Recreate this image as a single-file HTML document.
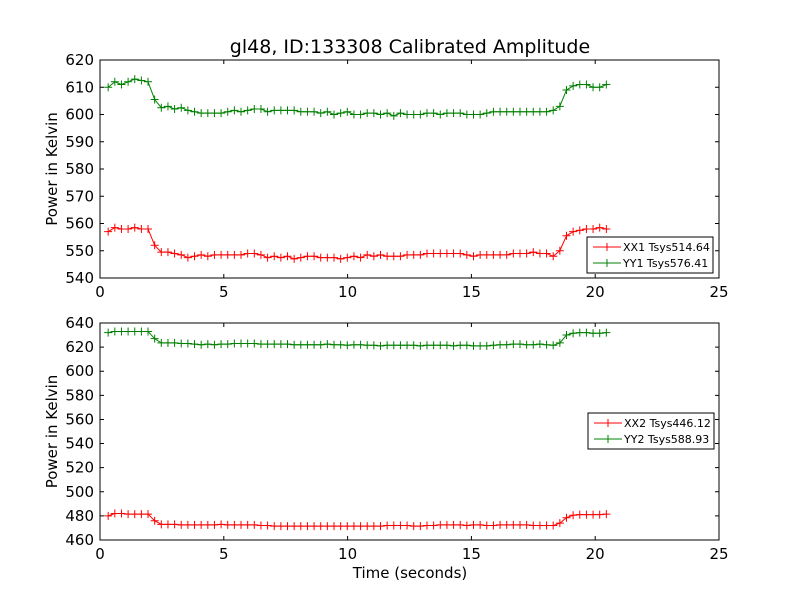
<!DOCTYPE html>
<html><head><meta charset="utf-8"><style>body{margin:0;background:#fff}svg{display:block;font-family:"DejaVu Sans","Liberation Sans",sans-serif}</style></head>
<body>
<svg id="chart" width="800" height="600"></svg>
<script>
const t0 = 0.33, t1 = 20.45;
const xx1 = [557,558.5,558,558,558.5,558,558,552,549.5,549.5,549,548.5,547.5,548,548.5,548,548.5,548.5,548.5,548.5,548.5,549,549,548.5,547.5,548,547.5,548,547,547.5,548,548,547.5,547.5,547.5,547,547.5,548,547.5,548.5,548,548.5,548,548,548,548.5,548.5,548.5,549,549,549,549,549,549,548.5,548,548.5,548.5,548.5,548.5,548.5,549,549,549,549.5,549,549,548,550,555.5,557,557.5,558,558,558.5,558];
const yy1 = [610,612,611,612,613,612.5,612,605.5,602.5,603,602,602.5,601.5,601,600.5,600.5,600.5,600.5,601,601.5,601,601.5,602,602,601,601.5,601.5,601.5,601.5,601,601,601,600.5,601,600,600.5,601,600,600,600.5,600.5,600,600.5,599.5,600.5,600,600,600,600.5,600.5,600,600.5,600.5,600.5,600,600,600,600.5,601,601,601,601,601,601,601,601,601,601.5,603,609,610.5,611,611,610,610,611];
const xx2 = [480,482,482,481.5,481.5,481.5,481.5,476,473,473,473,472.5,472.5,472.5,472.5,472.5,472.5,473,472.5,472.5,472.5,472.5,472.5,472,472,471.5,471.5,471.5,471.5,471.5,471.5,471.5,471.5,471.5,471.5,471.5,471.5,471.5,471.5,471.5,471.5,471.5,472,472,472,472,471.5,471.5,472,472,472.5,472.5,472.5,472.5,472,472.5,472.5,472,472,472.5,472.5,472.5,472.5,472.5,472,472,472,472,474,478.5,480.5,481,481,481,481,481.5];
const yy2 = [632,633,633,633,633,633,633,627,623.5,623.5,623.5,623,623,622.5,622,622.5,622,622.5,622.5,623,623,623,623,622.5,622.5,622.5,622.5,622.5,622,622,622,622,622,622.5,622,622,621.5,622,622,621.5,621.5,621,621.5,621.5,621.5,621.5,621.5,621,621.5,621.5,621.5,621.5,621,621.5,621.5,621,621,621,621.5,622,622,622.5,622.5,622,622,622.5,622,621.5,623.5,630,631.5,632,632,631.5,631.5,632];
const xTicks = [0,5,10,15,20,25];
const yTicksTop = [540,550,560,570,580,590,600,610,620];
const yTicksBot = [460,480,500,520,540,560,580,600,620,640];
const legendTop = ["XX1 Tsys514.64","YY1 Tsys576.41"];
const legendBot = ["XX2 Tsys446.12","YY2 Tsys588.93"];

const NS="http://www.w3.org/2000/svg";
const svg=document.getElementById('chart');
function mk(tag,attrs,parent){const e=document.createElementNS(NS,tag);for(const k in attrs)e.setAttribute(k,attrs[k]);(parent||svg).appendChild(e);return e;}

function panel(cfg){
  const {L,R,T,B,ymin,ymax,yTicks,series,legend,lx,ly,name}=cfg;
  const g=mk('g',{});
  
  
  const xs=v=>L+(v-0)/(25-0)*(R-L);
  const ys=v=>B-(v-ymin)/(ymax-ymin)*(B-T);
  series.forEach(s=>{
    const n=s.vals.length;
    const pts=s.vals.map((v,i)=>[xs(t0+(t1-t0)*i/(n-1)),ys(v)]);
    const pl=mk('polyline',{points:pts.map(p=>p.join(',')).join(' '),fill:'none',stroke:s.color,'stroke-width':1},g);
    
    
    let d='';pts.forEach(p=>{d+=`M${p[0]-4},${p[1]}h8M${p[0]},${p[1]-4}v8`;});
    const mp=mk('path',{d:d,stroke:s.color,'stroke-width':1},g);
    
    
  });
  const fr=mk('rect',{x:L,y:T,width:R-L,height:B-T,fill:'none',stroke:'#000','stroke-width':1},g);
  
  
  xTicks.forEach(v=>{
    const x=xs(v);
    mk('path',{d:`M${x},${B}v-4M${x},${T}v4`,stroke:'#000'},g);
    const tx=mk('text',{x:x,y:B+19,'font-size':15,'text-anchor':'middle'},g);
    tx.textContent=v;
    
    
  });
  yTicks.forEach(v=>{
    const y=ys(v);
    mk('path',{d:`M${L},${y}h4M${R},${y}h-4`,stroke:'#000'},g);
    const tx=mk('text',{x:L-6,y:y+5,'font-size':15,'text-anchor':'end'},g);
    tx.textContent=v;
    
    
  });
  const yl=mk('text',{x:0,y:0,'font-size':15,'text-anchor':'middle',transform:`translate(57,${(T+B)/2}) rotate(-90)`},g);
  yl.textContent='Power in Kelvin';
  
  
  const lg=mk('g',{},g);
  
  
  mk('rect',{x:lx,y:ly,width:126,height:36,fill:'#fff',stroke:'#000'},lg);
  legend.forEach((txt,i)=>{
    const yy=ly+10+i*16;
    const c=series[i].color;
    mk('path',{d:`M${lx+6},${yy}h28M${lx+20},${yy-4}v8`,stroke:c},lg);
    const tx=mk('text',{x:lx+36,y:yy+4,'font-size':11},lg);
    tx.textContent=txt;
    
    
  });
}

panel({L:100,R:719,T:60,B:278,ymin:540,ymax:620,yTicks:yTicksTop,name:'top-panel',
  series:[{vals:xx1,color:'#ff0000',name:'xx1'},{vals:yy1,color:'#008000',name:'yy1'}],
  legend:legendTop,lx:587,ly:237});
panel({L:100,R:719,T:323,B:540,ymin:460,ymax:640,yTicks:yTicksBot,name:'bottom-panel',
  series:[{vals:xx2,color:'#ff0000',name:'xx2'},{vals:yy2,color:'#008000',name:'yy2'}],
  legend:legendBot,lx:588,ly:413});

const title=mk('text',{x:410,y:53,'font-size':19,'text-anchor':'middle'});
title.textContent='gl48, ID:133308 Calibrated Amplitude';


const xt=mk('text',{x:410,y:578,'font-size':15,'text-anchor':'middle'});
xt.textContent='Time (seconds)';


</script>
</body></html>
